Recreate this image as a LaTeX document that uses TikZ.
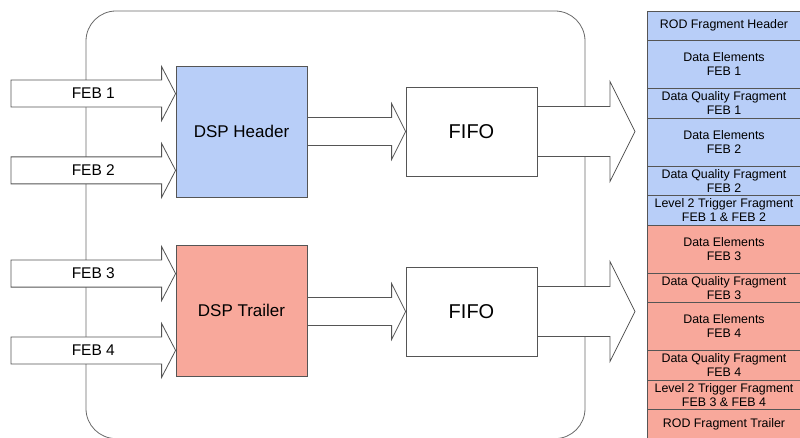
\documentclass[tikz,border=0pt]{standalone}
\usepackage{fontspec}
\setmainfont{Liberation Sans}
\usetikzlibrary{shapes,arrows,calc,positioning}

\definecolor{hdrblue}{RGB}{184,206,248}
\definecolor{trlred}{RGB}{248,168,155}
\definecolor{edgegray}{RGB}{85,85,85}
\definecolor{framegray}{RGB}{105,105,105}

\tikzstyle{dsp} = [rectangle, draw=edgegray, line width=0.8pt, minimum width=131pt,
minimum height=131pt, font=\fontsize{17}{20}\selectfont]
\tikzstyle{fifo} = [rectangle, draw=edgegray, fill=white, line width=0.8pt,
minimum width=131pt, minimum height=89pt, font=\fontsize{20}{24}\selectfont]
\tikzstyle{cell} = [rectangle, draw=edgegray, line width=0.8pt, minimum width=154pt,
minimum height=29.5pt, inner sep=1pt, outer sep=0pt, align=center,
font=\fontsize{12.4}{14}\selectfont]
\tikzstyle{tallcell} = [cell, minimum height=48pt]
\tikzstyle{fat} = [draw=edgegray, fill=white, line width=0.8pt, line join=miter]

% block arrow: from, to, shaft half, head half, head length, label
\newcommand{\fatarrow}[6]{%
  \path[fat] let \p1=(#1), \p2=(#2) in
    (\x1,\y2+#3) -- (\x2-#5,\y2+#3) -- (\x2-#5,\y2+#4) -- (\x2,\y2)
    -- (\x2-#5,\y2-#4) -- (\x2-#5,\y2-#3) -- (\x1,\y2-#3) -- cycle
    (\x1/2+\x2/2,\y2) node[font=\fontsize{15.5}{18}\selectfont] {#6};}

\begin{document}
\begin{tikzpicture}[x=1pt, y=-1pt]
	\useasboundingbox (0,0) rectangle (800,438);
	% Frame
	\draw[framegray, line width=0.8pt, rounded corners=30pt] (86,11) rectangle (585,438.6);

	% Place nodes
	\node [dsp, fill=hdrblue] (dsph) at (241.5,131.5) {DSP Header};
	\node [dsp, fill=trlred, below of=dsph, node distance=179pt] (dspt) {DSP Trailer};
	\node [fifo, right of=dsph, node distance=230pt] (fifo1) {FIFO};
	\node [fifo, right of=dspt, node distance=230pt, yshift=-1pt] (fifo2) {FIFO};

	% ROD fragment
	\node [cell, fill=hdrblue, anchor=north west] (rodh) at (647,11) {ROD Fragment Header};
	\node [tallcell, fill=hdrblue, below=0pt of rodh] (de1) {Data Elements\\FEB 1};
	\node [cell, fill=hdrblue, below=0pt of de1] (dq1) {Data Quality Fragment\\FEB 1};
	\node [tallcell, fill=hdrblue, below=0pt of dq1] (de2) {Data Elements\\FEB 2};
	\node [cell, fill=hdrblue, below=0pt of de2] (dq2) {Data Quality Fragment\\FEB 2};
	\node [cell, fill=hdrblue, below=0pt of dq2] (lvl1) {Level 2 Trigger Fragment\\FEB 1 \& FEB 2};
	\node [tallcell, fill=trlred, below=0pt of lvl1] (de3) {Data Elements\\FEB 3};
	\node [cell, fill=trlred, below=0pt of de3] (dq3) {Data Quality Fragment\\FEB 3};
	\node [tallcell, fill=trlred, below=0pt of dq3] (de4) {Data Elements\\FEB 4};
	\node [cell, fill=trlred, below=0pt of de4] (dq4) {Data Quality Fragment\\FEB 4};
	\node [cell, fill=trlred, below=0pt of dq4] (lvl2) {Level 2 Trigger Fragment\\FEB 3 \& FEB 4};
	\node [cell, fill=trlred, below=0pt of lvl2] (rodt) {ROD Fragment Trailer};

	% Arrow ends
	\coordinate (src) at (11,0);
	\coordinate (in1) at ([yshift=-28pt]dsph.north west);
	\coordinate (in2) at ([yshift=27pt]dsph.south west);
	\coordinate (in3) at ([yshift=-29pt]dspt.north west);
	\coordinate (in4) at ([yshift=26pt]dspt.south west);
	\coordinate (out1) at ($(fifo1.east -| rodh.west)+(-12pt,0)$);
	\coordinate (out2) at ($(fifo2.east -| rodh.west)+(-12pt,0)$);

	\fatarrow{src}{in1}{13.5pt}{27pt}{14pt}{FEB 1}
	\fatarrow{src}{in2}{13.5pt}{27pt}{14pt}{FEB 2}
	\fatarrow{src}{in3}{13.5pt}{27pt}{14pt}{FEB 3}
	\fatarrow{src}{in4}{13.5pt}{27pt}{14pt}{FEB 4}
	\fatarrow{dsph.east}{fifo1.west}{14pt}{28pt}{14pt}{}
	\fatarrow{dspt.east}{fifo2.west}{14pt}{28pt}{14pt}{}
	\fatarrow{fifo1.east}{out1}{25pt}{50pt}{25pt}{}
	\fatarrow{fifo2.east}{out2}{25pt}{50pt}{25pt}{}

\end{tikzpicture}
\end{document}
